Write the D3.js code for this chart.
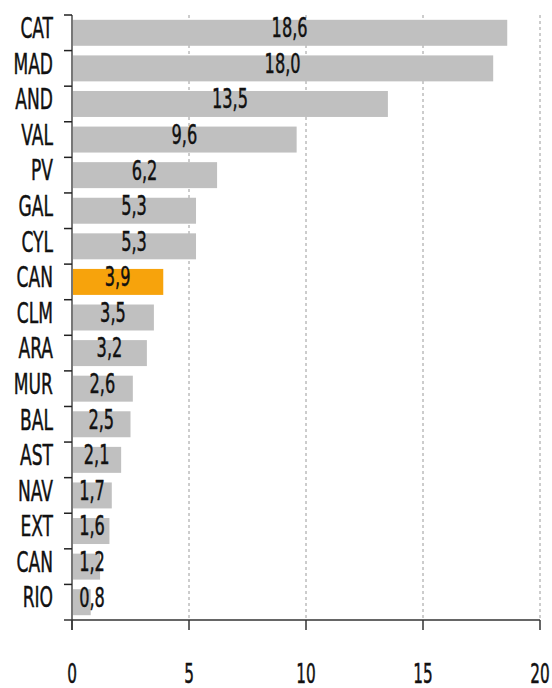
<!DOCTYPE html>
<html>
<head>
<meta charset="utf-8">
<script src="https://cdn.jsdelivr.net/npm/d3@7/dist/d3.min.js"></script>
<style>
  body { margin: 0; background: #fff; }
  text { font-family: "DejaVu Sans Condensed", "DejaVu Sans", sans-serif; fill: #111; }
</style>
</head>
<body>
<div id="chart"></div>
<script>
// ========================================
// Data
// ========================================
var categories = ["CAT", "MAD", "AND", "VAL", "PV", "GAL", "CYL", "CAN", "CLM",
                  "ARA", "MUR", "BAL", "AST", "NAV", "EXT", "CAN", "RIO"];
var values = [18.6, 18.0, 13.5, 9.6, 6.2, 5.3, 5.3, 3.9, 3.5,
              3.2, 2.6, 2.5, 2.1, 1.7, 1.6, 1.2, 0.8];
var highlight_index = 7;
var x_ticks = [0, 5, 10, 15, 20];

// ========================================
// Layout
// ========================================
var width = 552, height = 688;
var plot_left = 72, plot_right = 540, plot_top = 15, plot_bottom = 620;

var bar_color = '#c0c0c0',
    highlight_color = '#f7a30c',
    grid_color = '#9a9a9a';

var fmt = v => d3.format(".1f")(v).replace(".", ",");

var x = d3.scaleLinear().domain([0, 20]).range([plot_left, plot_right]);
var y = d3.scaleBand()
   .domain(d3.range(categories.length))
   .range([plot_top, plot_bottom])
   .paddingInner(0.27)
   .paddingOuter(0.135);

var svg = d3.select("#chart")
   .append("svg")
   .attr("width", width)
   .attr("height", height);

// Gridlines (dotted, behind bars)
svg.selectAll('.grid')
   .data(x_ticks.filter(t => t > 0))
   .enter()
   .append('line')
   .attr('x1', d => x(d)).attr('x2', d => x(d))
   .attr('y1', plot_top).attr('y2', plot_bottom)
   .style('stroke', grid_color)
   .style('stroke-width', 1)
   .style('stroke-dasharray', '3,3');

// Bars
svg.selectAll('.bar')
   .data(values)
   .enter()
   .append('rect')
   .attr('x', x(0))
   .attr('y', (d, i) => y(i))
   .attr('width', d => x(d) - x(0))
   .attr('height', y.bandwidth())
   .style('fill', (d, i) => i === highlight_index ? highlight_color : bar_color);

// Value labels (small ones pushed off the axis)
svg.selectAll('.value')
   .data(values)
   .enter()
   .append('text')
   .attr('transform', (d, i) => {
      var cx = Math.max((x(0) + x(d)) / 2, x(0) + 20);
      var cy = y(i) + y.bandwidth() / 2 - 5;
      return `translate(${cx}, ${cy}) scale(1, 1.45)`;
   })
   .attr('text-anchor', 'middle')
   .attr('dy', '0.36em')
   .style('font-size', '18px')
   .style('stroke', '#111')
   .style('stroke-width', 0.3)
   .text(fmt);

// Category labels
svg.selectAll('.cat')
   .data(categories)
   .enter()
   .append('text')
   .attr('transform', (d, i) => `translate(53, ${y(i) + y.bandwidth() / 2 - 5}) scale(1, 1.5)`)
   .attr('text-anchor', 'end')
   .attr('dy', '0.36em')
   .style('font-size', '19px')
   .style('stroke', '#111')
   .style('stroke-width', 0.3)
   .text(d => d);

// Left axis
var step = y.step();
svg.append('line')
   .attr('x1', x(0)).attr('x2', x(0))
   .attr('y1', plot_top).attr('y2', plot_bottom + 10)
   .style('stroke', '#777')
   .style('stroke-width', 2);

svg.selectAll('.ytick')
   .data(d3.range(categories.length))
   .enter()
   .append('line')
   .attr('x1', x(0) - 8).attr('x2', x(0))
   .attr('y1', d => plot_top + d * step).attr('y2', d => plot_top + d * step)
   .style('stroke', '#222')
   .style('stroke-width', 1.5);

// Bottom axis
svg.append('line')
   .attr('x1', x(0) - 8).attr('x2', x(20))
   .attr('y1', plot_bottom).attr('y2', plot_bottom)
   .style('stroke', '#333')
   .style('stroke-width', 1.5);

svg.selectAll('.xtick')
   .data(x_ticks)
   .enter()
   .append('line')
   .attr('x1', d => x(d)).attr('x2', d => x(d))
   .attr('y1', plot_bottom).attr('y2', plot_bottom + 10)
   .style('stroke', '#333')
   .style('stroke-width', 1.5);

svg.selectAll('.xlabel')
   .data(x_ticks)
   .enter()
   .append('text')
   .attr('transform', d => `translate(${x(d)}, 673) scale(1, 1.6)`)
   .attr('text-anchor', 'middle')
   .attr('dy', '0.36em')
   .style('font-size', '17px')
   .style('stroke', '#111')
   .style('stroke-width', 0.3)
   .text(d => d);
</script>
</body>
</html>
